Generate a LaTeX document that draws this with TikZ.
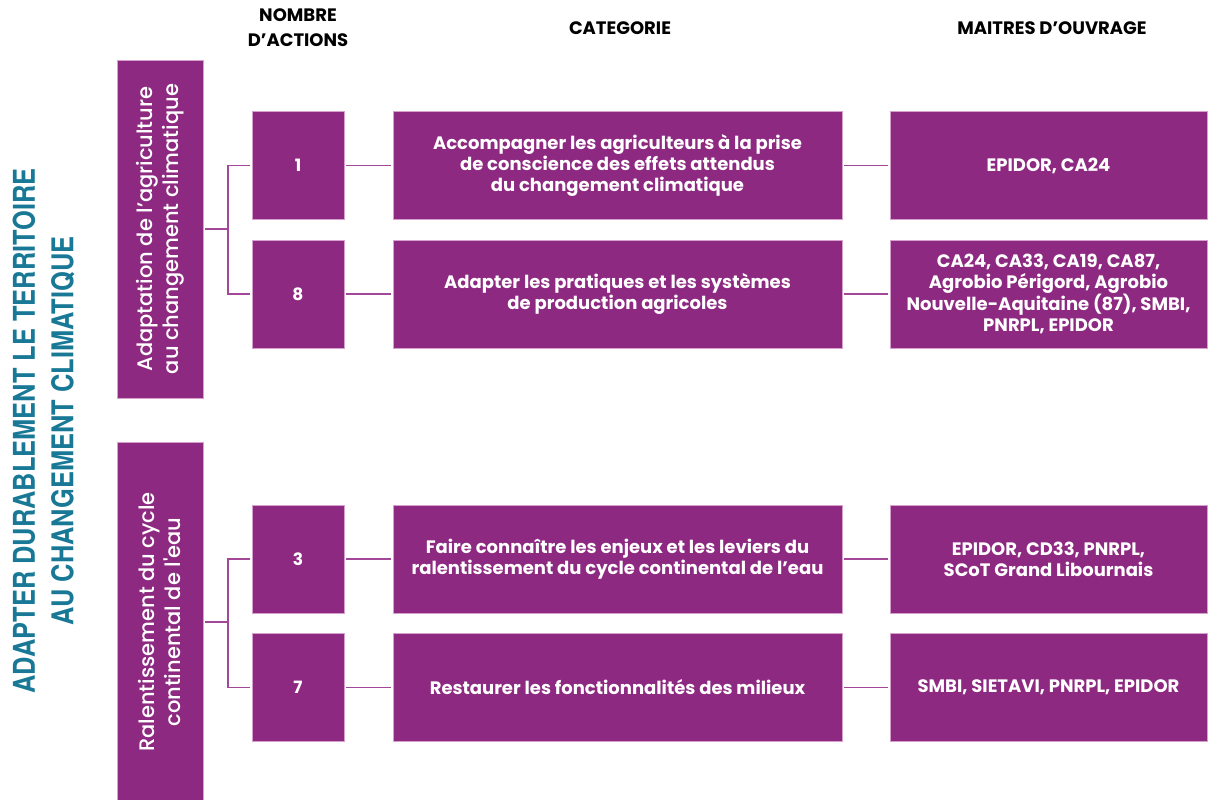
\documentclass[tikz,border=0pt]{standalone}
\usepackage{fontspec}
\setmainfont{Poppins}
\newfontfamily\medfont{Poppins Medium}
\newfontfamily\titlefont{TeX Gyre Heros}
\definecolor{purp}{RGB}{142,41,130}
\definecolor{purpedge}{RGB}{214,160,206}
\definecolor{conncol}{RGB}{163,72,153}
\definecolor{teal}{RGB}{24,120,150}
\tikzset{
  pbox/.style={fill=purp, draw=purpedge, line width=0.8pt, inner sep=0pt, text=white, align=center},
  numbox/.style={pbox, minimum width=92pt, minimum height=108pt, font=\fontsize{17}{21}\selectfont\bfseries},
  catbox/.style={pbox, minimum width=449pt, minimum height=108pt, font=\fontsize{18}{21}\selectfont\bfseries},
  mobox/.style={pbox, minimum width=317pt, minimum height=108pt, font=\fontsize{18}{21}\selectfont\bfseries},
  themebox/.style={pbox, minimum width=86pt},
  themetext/.style={text=white, align=center, rotate=90, font=\medfont\fontsize{21}{26}\selectfont},
  header/.style={align=center, font=\fontsize{18}{25}\selectfont\bfseries},
  titleline/.style={text=teal, rotate=90, inner sep=0pt, font=\titlefont\fontsize{30}{36}\selectfont\bfseries},
  conn/.style={draw=conncol, line width=1.8pt},
}
\begin{document}
\begin{tikzpicture}[x=1pt, y=-1pt]
\useasboundingbox (0,0) rectangle (1208,800);
% title
\node[titleline] (title1) at (24,431) {\scalebox{0.847}[1]{ADAPTER DURABLEMENT LE TERRITOIRE}};
\node[titleline] (title2) at (63,431) {\scalebox{0.847}[1]{AU CHANGEMENT CLIMATIQUE}};
% headers
\node[header] (h1) at (298,28) {NOMBRE\\D’ACTIONS};
\node[header] (h2) at (620,28) {CATEGORIE};
\node[header] (h3) at (1052,28) {MAITRES D’OUVRAGE};
% theme boxes
\node[themebox, minimum height=338pt] (t1) at (160,229) {};
\node[themetext] (t1txt) at (t1.center) {Adaptation de l’agriculture\\au changement climatique};
\node[themebox, minimum height=360pt] (t2) at (160,622) {};
\node[themetext] (t2txt) at (t2.center) {Ralentissement du cycle\\continental de l'eau};
% number boxes
\node[numbox] (n1) at (298,165.5) {1};
\node[numbox] (n8) at (298,294) {8};
\node[numbox] (n3) at (298,559) {3};
\node[numbox] (n7) at (298,687.5) {7};
% category boxes
\node[catbox] (c1) at (617.5,165.5) {Accompagner les agriculteurs à la prise\\de conscience des effets attendus\\du changement climatique};
\node[catbox] (c8) at (617.5,294) {Adapter les pratiques et les systèmes\\de production agricoles};
\node[catbox] (c3) at (617.5,559) {Faire connaître les enjeux et les leviers du\\ralentissement du cycle continental de l'eau};
\node[catbox] (c7) at (617.5,687.5) {Restaurer les fonctionnalités des milieux};
% maitres d'ouvrage
\node[mobox] (m1) at (1048.5,165.5) {EPIDOR, CA24};
\node[mobox] (m8) at (1048.5,294) {CA24, CA33, CA19, CA87,\\Agrobio Périgord, Agrobio\\Nouvelle-Aquitaine (87), SMBI,\\PNRPL, EPIDOR};
\node[mobox] (m3) at (1048.5,559) {EPIDOR, CD33, PNRPL,\\SCoT Grand Libournais};
\node[mobox] (m7) at (1048.5,687.5) {SMBI, SIETAVI, PNRPL, EPIDOR};
% connectors
\coordinate (j1) at (228,229);
\coordinate (j2) at (228,622);
\draw[conn, shorten <=2pt] (t1.east) -- (j1);
\draw[conn, shorten <=2pt, shorten >=2pt] (n1.west) -| (j1) |- (n8.west);
\draw[conn, shorten <=2pt] (t2.east) -- (j2);
\draw[conn, shorten <=2pt, shorten >=2pt] (n3.west) -| (j2) |- (n7.west);
\foreach \a/\b in {n1/c1, n8/c8, n3/c3, n7/c7, c1/m1, c8/m8, c3/m3, c7/m7}{
  \draw[conn, shorten <=2pt, shorten >=2pt] (\a.east) -- (\b.west);
}
\end{tikzpicture}
\end{document}
